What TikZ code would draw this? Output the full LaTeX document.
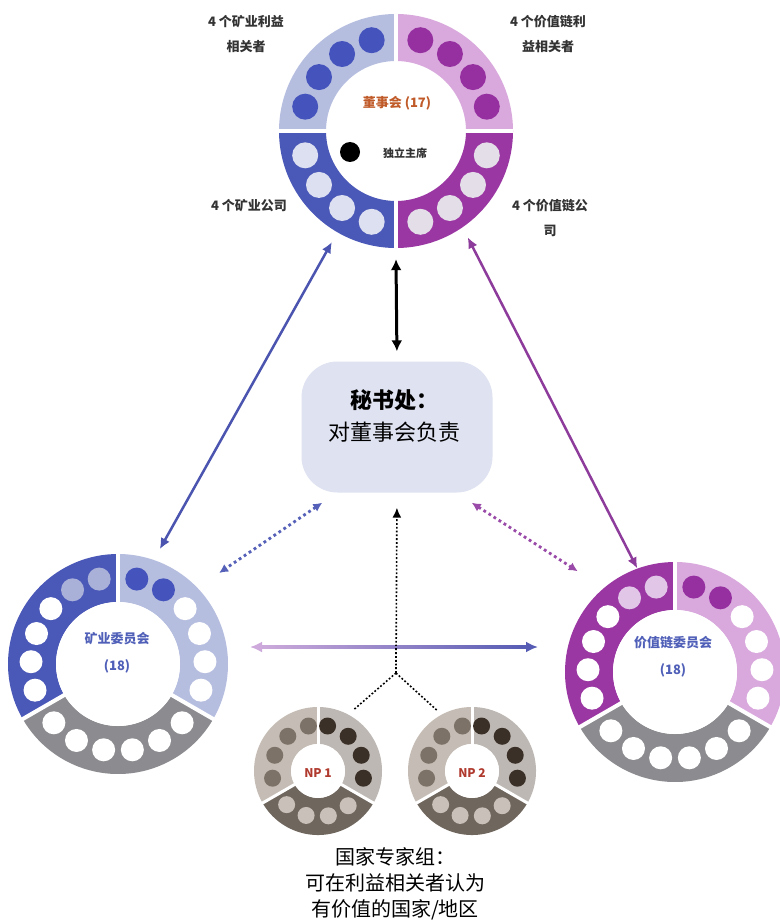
\documentclass[tikz,border=0pt]{standalone}
\usepackage{fontspec}
\setmainfont{Noto Sans CJK SC}
\usetikzlibrary{arrows.meta,calc}
\definecolor{tlb}{HTML}{B6BEE0}
\definecolor{dblue}{HTML}{4454BC}
\definecolor{tpk}{HTML}{D9A9DD}
\definecolor{dpur}{HTML}{9630A0}
\definecolor{mblue}{HTML}{4A58B8}
\definecolor{lbl}{HTML}{DCE0F0}
\definecolor{mpur}{HTML}{9B37A3}
\definecolor{lpk}{HTML}{E4DEE8}
\definecolor{gry}{HTML}{8C8C90}
\definecolor{lgb}{HTML}{A9B1D9}
\definecolor{lpp}{HTML}{E2C6E8}
\definecolor{secbg}{HTML}{DFE2F1}
\definecolor{arblue}{HTML}{4B55B0}
\definecolor{arpur}{HTML}{8E3C9C}
\definecolor{dotblue}{HTML}{5560B8}
\definecolor{dotpur}{HTML}{9A4AA8}
\definecolor{hl}{HTML}{CDAADB}
\definecolor{hr}{HTML}{565CB4}
\definecolor{labc}{HTML}{333333}
\definecolor{boardc}{HTML}{C05A28}
\definecolor{comc}{HTML}{5060B8}
\definecolor{npred}{HTML}{B03A2E}
\definecolor{npA}{HTML}{C5BDB5}
\definecolor{npAd}{HTML}{7D7268}
\definecolor{npB}{HTML}{BDB8B3}
\definecolor{npBd}{HTML}{3B3028}
\definecolor{npC}{HTML}{6F665D}
\definecolor{npCd}{HTML}{C9C1B9}
\newcommand{\ringseg}[6]{%
  \fill[#6] ($(#1)+(#4:#3)$) arc[start angle=#4,end angle=#5,radius=#3]
    -- ($(#1)+(#5:#2)$) arc[start angle=#5,end angle=#4,radius=#2] -- cycle;}
\newcommand{\dotarc}[5]{%
  \foreach \a in {#3} \fill[#5] ($(#1)+(\a:#2)$) circle[radius=#4];}
\begin{document}
\begin{tikzpicture}[x=1pt,y=1pt,
  lab/.style={font=\fontsize{13}{25}\selectfont\bfseries, text=labc, align=center, inner sep=0},
  ringnode/.style={circle, inner sep=0, draw=none},
  solidarrow/.style={line width=2.5pt, {Latex[length=11pt,width=10pt]}-{Latex[length=11pt,width=10pt]}},
  dotarrow/.style={line width=2.8pt, dash pattern=on 2.8pt off 3.2pt, {Latex[length=9pt,width=9pt]}-{Latex[length=9pt,width=9pt]}},
  blackdot/.style={line width=1.6pt, dash pattern=on 1.8pt off 2pt, black},
  gap/.style={white, line width=4pt}]
\useasboundingbox (0,0) rectangle (779,-920);
\fill[white] (0,0) rectangle (779,-920);
% ---------- board ring
\coordinate (B) at (396,-131);
\ringseg{B}{70}{117}{90}{180}{tlb}
\ringseg{B}{70}{117}{0}{90}{tpk}
\ringseg{B}{70}{117}{180}{270}{mblue}
\ringseg{B}{70}{117}{270}{360}{mpur}
\draw[gap] ($(B)+(0,117)$) -- ($(B)+(0,-117)$);
\draw[gap] ($(B)+(-117,0)$) -- ($(B)+(117,0)$);
\dotarc{B}{94}{105,125,145,165}{13}{dblue}
\dotarc{B}{94}{15,35,55,75}{13}{dpur}
\dotarc{B}{94}{195,215,235,255}{13}{lbl}
\dotarc{B}{94}{285,305,325,345}{13}{lpk}
\node[ringnode, minimum size=256pt] (board) at (B) {};
\node[font=\fontsize{13}{15}\selectfont\bfseries, text=boardc] (boardt) at (397,-103) {董事会 (17)};
\node[circle, fill=black, minimum size=20pt, inner sep=0] (chairdot) at (350,-152) {};
\node[font=\fontsize{11}{13}\selectfont\bfseries, text=labc] (chairt) at (405,-153) {独立主席};
\node[lab] (l1) at (246,-34) {4 个矿业利益\\相关者};
\node[lab] (l2) at (548,-34) {4 个价值链利\\益相关者};
\node[lab] (l3) at (249,-206) {4 个矿业公司};
\node[lab] (l4) at (550,-218) {4 个价值链公\\司};
% ---------- mining committee ring
\coordinate (M) at (118,-664);
\ringseg{M}{62}{110}{90}{210}{mblue}
\ringseg{M}{62}{110}{-30}{90}{tlb}
\ringseg{M}{62}{110}{210}{330}{gry}
\foreach \g in {90,210,330} \draw[gap] (M) -- ($(M)+(\g:111)$);
\fill[white] (M) circle[radius=62];
\dotarc{M}{87}{102.5,121.5}{11.5}{lgb}
\dotarc{M}{87}{140.5,159.5,178.5,197.5}{11.5}{white}
\dotarc{M}{87}{77.5,58.5}{11.5}{dblue}
\dotarc{M}{87}{39.5,20.5,1.5,-17.5}{11.5}{white}
\dotarc{M}{87}{222.5,241.5,260.5,279.5,298.5,317.5}{11.5}{white}
\node[ringnode, minimum size=244pt] (mining) at (M) {};
\node[font=\fontsize{13}{27}\selectfont\bfseries, text=comc, align=center] (mint) at (117,-653) {矿业委员会\\(18)};
% ---------- value chain committee ring
\coordinate (V) at (675,-672);
\ringseg{V}{62}{110}{90}{210}{mpur}
\ringseg{V}{62}{110}{-30}{90}{tpk}
\ringseg{V}{62}{110}{210}{330}{gry}
\foreach \g in {90,210,330} \draw[gap] (V) -- ($(V)+(\g:111)$);
\fill[white] (V) circle[radius=62];
\dotarc{V}{87}{102.5,121.5}{11.5}{lpp}
\dotarc{V}{87}{140.5,159.5,178.5,197.5}{11.5}{white}
\dotarc{V}{87}{77.5,58.5}{11.5}{dpur}
\dotarc{V}{87}{39.5,20.5,1.5,-17.5}{11.5}{white}
\dotarc{V}{87}{222.5,241.5,260.5,279.5,298.5,317.5}{11.5}{white}
\node[ringnode, minimum size=220pt] (value) at (V) {};
\node[font=\fontsize{13}{27}\selectfont\bfseries, text=comc, align=center] (valt) at (673,-657) {价值链委员会\\(18)};
% ---------- NP rings
\foreach \nm/\cx/\tx in {np1/318/NP 1,np2/472/NP 2}{
  \coordinate (\nm c) at (\cx,-771);
  \ringseg{\nm c}{27}{64}{90}{210}{npA}
  \ringseg{\nm c}{27}{64}{-30}{90}{npB}
  \ringseg{\nm c}{27}{64}{210}{330}{npC}
  \foreach \g in {90,210,330} \draw[white, line width=3pt] (\nm c) -- ($(\nm c)+(\g:65)$);
  \fill[white] (\nm c) circle[radius=27];
  \dotarc{\nm c}{46}{102,131,160,189}{8.5}{npAd}
  \dotarc{\nm c}{46}{78,49,20,-9}{8.5}{npBd}
  \dotarc{\nm c}{46}{227,255,283,311}{8.5}{npCd}
  \node[ringnode, minimum size=140pt] (\nm) at (\nm c) {};
  \node[font=\fontsize{12}{14}\selectfont\bfseries, text=npred] (\nm t) at (\cx,-773) {\tx};
}
% ---------- secretariat
\node[fill=secbg, rounded corners=36pt, minimum width=191pt, minimum height=131pt, inner sep=0] (sec) at (397,-427) {};
\node[font=\fontsize{22}{32}\selectfont, align=center, text=black] (sect) at (394,-416) {\textbf{秘书处：}\\对董事会负责};
% ---------- bottom text
\node[font=\fontsize{20}{26}\selectfont, align=center, text=black, inner sep=0] (expt) at (395,-884) {国家专家组：\\可在利益相关者认为\\有价值的国家/地区};
% ---------- connectors
\draw[solidarrow, arblue] (board.240) -- (mining.70);
\draw[solidarrow, arpur] (board.304) -- (value.110);
\draw[line width=3pt, black, {Latex[length=11pt,width=11pt]}-{Latex[length=11pt,width=11pt]}, shorten >=10pt] (board.south) -- (sec.north);
\coordinate (d1a) at ([shift={(21,-10)}]sec.south west);
\coordinate (d1b) at ($(M)+(42:136)$);
\coordinate (d2a) at ([shift={(-21,-10)}]sec.south east);
\coordinate (d2b) at ($(V)+(134:140)$);
\draw[dotarrow, dotblue] (d1a) -- (d1b);
\draw[dotarrow, dotpur] (d2a) -- (d2b);
\coordinate (J) at (396,-673);
\draw[blackdot, -{Latex[length=10pt,width=9pt]}, shorten >=15pt] (J) -- (sec.south);
\draw[blackdot] (J) -- (np1.60);
\draw[blackdot] (J) -- (np2.120);
\coordinate (h1) at ($(M)+(132,17)$);
\coordinate (h2) at ($(V)+(-137,25)$);
\draw[line width=3pt, hr, {Latex[length=12pt,width=11pt,color=hl]}-{Latex[length=12pt,width=11pt,color=hr]}] (h1) -- (h2);
\shade[left color=hl, right color=hr] ($(h1)+(10,1.6)$) rectangle ($(h2)+(-10,-1.6)$);
\draw[blackdot] (J) -- ($(J)+(0,30)$);
\end{tikzpicture}
\end{document}
